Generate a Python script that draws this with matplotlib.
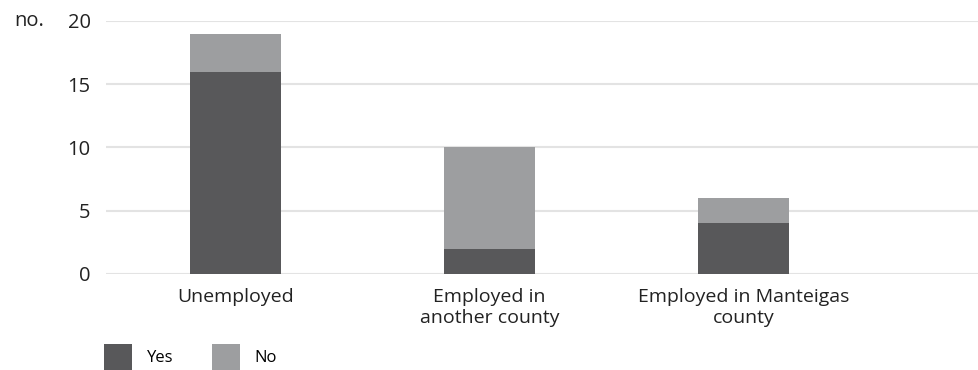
import matplotlib.pyplot as plt
import numpy as np

plt.rcParams['font.family'] = ['Open Sans', 'DejaVu Sans']

categories = ["Unemployed", "Employed in\nanother county", "Employed in Manteigas\ncounty"]
yes_vals = [16, 2, 4]
no_vals = [3, 8, 2]
y_ticks = [0, 5, 10, 15, 20]

dark = "#58585a"
light = "#9d9ea0"
txt = "#222222"

fig = plt.figure(figsize=(9.79, 3.70), dpi=100)
ax = fig.add_axes([0.1083, 0.2595, 0.8917, 0.6838])

x = np.arange(len(categories))
ax.bar(x, yes_vals, width=0.36, color=dark, label="Yes", zorder=3)
ax.bar(x, no_vals, width=0.36, bottom=yes_vals, color=light, label="No", zorder=3)

ax.set_xlim(-0.51, 2.927)
ax.set_ylim(0, 20)
ax.set_yticks(y_ticks)
ax.yaxis.grid(True, color="#e3e3e3", linewidth=1.5, zorder=0)
ax.set_xticks(x)
ax.set_xticklabels(categories, fontsize=14, color=txt, linespacing=1.2)
ax.tick_params(axis="x", length=0, pad=10)
ax.tick_params(axis="y", length=0, pad=11, labelsize=14.5, labelcolor=txt)
for s in ax.spines.values():
    s.set_visible(False)

fig.text(14 / 979, 1 - 21 / 370, "no.", fontsize=14.5, color=txt, va="center", ha="left")

fig.legend(loc="lower left", bbox_to_anchor=(104 / 979, 0.0), ncol=2, frameon=False,
           fontsize=12, handlelength=1.68, handleheight=2.05, handletextpad=0.9,
           columnspacing=2.3, borderpad=0, borderaxespad=0)

fig.savefig("out.png", dpi=100)
